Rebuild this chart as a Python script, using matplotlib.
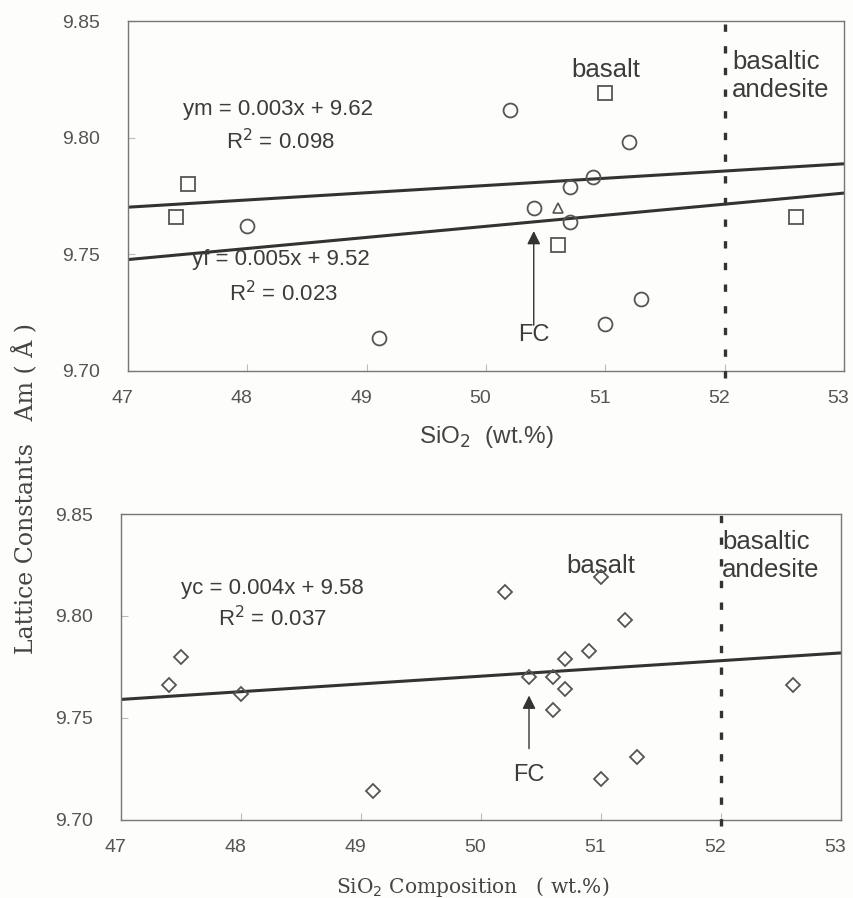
import numpy as np
import matplotlib.pyplot as plt
from matplotlib.transforms import ScaledTranslation

# SiO2 (wt.%) and lattice constant Am (A) for each sample group
sq_x = [47.4, 47.5, 50.6, 51.0, 52.6]
sq_y = [9.766, 9.780, 9.754, 9.819, 9.766]
ci_x = [48.0, 49.1, 50.2, 50.4, 50.7, 50.7, 50.9, 51.0, 51.2, 51.3]
ci_y = [9.762, 9.714, 9.812, 9.770, 9.779, 9.764, 9.783, 9.720, 9.798, 9.731]
tr_x = [50.6]
tr_y = [9.770]

# regression lines (slope, intercept)
fit_m = (0.0031, 9.6245)
fit_f = (0.00475, 9.5245)
fit_c = (0.0038, 9.5805)

xticks = [47, 48, 49, 50, 51, 52, 53]
yticks = [9.70, 9.75, 9.80, 9.85]

all_x = np.array(sq_x + ci_x + tr_x)
all_y = np.array(sq_y + ci_y + tr_y)

sans = 'Liberation Sans'
serif = 'DejaVu Serif'
txtc = '#3c3c3c'
mkc = '#555555'

fig = plt.figure(figsize=(8.54, 8.98), dpi=100)
fig.patch.set_facecolor('#fdfdfb')

ax1 = fig.add_axes([0.1499, 0.5869, 0.8384, 0.3897])
ax2 = fig.add_axes([0.1417, 0.0869, 0.8431, 0.3407])

shift = ScaledTranslation(-4 / 72, 0, fig.dpi_scale_trans)

for ax in (ax1, ax2):
    ax.set_facecolor('#fdfdfb')
    ax.set_xlim(47, 53)
    ax.set_ylim(9.70, 9.85)
    ax.set_xticks(xticks)
    ax.set_yticks(yticks)
    ax.set_yticklabels(['%.2f' % v for v in yticks])
    ax.tick_params(direction='in', length=5, width=0.8, color='#bbbbbb',
                   labelcolor='#555555', labelsize=14)
    ax.tick_params(axis='y', pad=20)
    ax.tick_params(axis='x', pad=14)
    for lab in ax.get_xticklabels() + ax.get_yticklabels():
        lab.set_fontfamily(sans)
    for lab in ax.get_xticklabels():
        lab.set_transform(lab.get_transform() + shift)
    for sp in ax.spines.values():
        sp.set_color('#777777')
        sp.set_linewidth(1.0)
    # basalt / basaltic andesite boundary
    ax.plot([52, 52], [9.697, 9.851], color='#333333', lw=2.4,
            dashes=(2.2, 4.3), clip_on=False, zorder=3)

xx = np.array([47, 53])

# top panel
ax1.plot(xx, fit_m[0] * xx + fit_m[1], color='#333333', lw=2.2, zorder=2)
ax1.plot(xx, fit_f[0] * xx + fit_f[1], color='#333333', lw=2.2, zorder=2)
ax1.plot(sq_x, sq_y, 's', ms=9.5, mfc='none', mec=mkc, mew=1.3, zorder=4)
ax1.plot(ci_x, ci_y, 'o', ms=10, mfc='none', mec=mkc, mew=1.3, zorder=4)
ax1.plot(tr_x, tr_y, '^', ms=7, mfc='none', mec=mkc, mew=1.2, zorder=4)

ax1.text(48.26, 9.812, 'ym = 0.003x + 9.62', ha='center', va='center',
         fontsize=16, color=txtc, family=sans)
ax1.text(48.28, 9.7985, 'R$^2$ = 0.098', ha='center', va='center',
         fontsize=16, color=txtc, family=sans)
ax1.text(48.28, 9.7476, 'yf = 0.005x + 9.52', ha='center', va='center',
         fontsize=16, color=txtc, family=sans)
ax1.text(48.30, 9.733, 'R$^2$ = 0.023', ha='center', va='center',
         fontsize=16, color=txtc, family=sans)
ax1.text(51.0, 9.829, 'basalt', ha='center', va='center',
         fontsize=18.5, color=txtc, family=sans)
ax1.text(52.06, 9.8265, 'basaltic\nandesite', ha='left', va='center',
         fontsize=18.5, color=txtc, family=sans, linespacing=1.22)
ax1.annotate('', xy=(50.4, 9.760), xytext=(50.4, 9.7196),
             arrowprops=dict(arrowstyle='-|>', color='#333333', lw=1.0,
                             mutation_scale=20, shrinkA=0, shrinkB=0))
ax1.text(50.4, 9.7155, 'FC', ha='center', va='center',
         fontsize=17, color=txtc, family=sans)
ax1.set_xlabel('SiO$_2$  (wt.%)', fontsize=17.5, color='#444444',
               family=sans, labelpad=12)

# bottom panel, all samples together
ax2.plot(xx, fit_c[0] * xx + fit_c[1], color='#333333', lw=2.2, zorder=2)
ax2.plot(all_x, all_y, 'D', ms=6.8, mfc='none', mec=mkc, mew=1.3, zorder=4)

ax2.text(48.26, 9.8137, 'yc = 0.004x + 9.58', ha='center', va='center',
         fontsize=16, color=txtc, family=sans)
ax2.text(48.26, 9.7985, 'R$^2$ = 0.037', ha='center', va='center',
         fontsize=16, color=txtc, family=sans)
ax2.text(51.0, 9.8245, 'basalt', ha='center', va='center',
         fontsize=18.5, color=txtc, family=sans)
ax2.text(52.01, 9.8295, 'basaltic\nandesite', ha='left', va='center',
         fontsize=18.5, color=txtc, family=sans, linespacing=1.2)
ax2.annotate('', xy=(50.4, 9.761), xytext=(50.4, 9.735),
             arrowprops=dict(arrowstyle='-|>', color='#333333', lw=1.0,
                             mutation_scale=20, shrinkA=0, shrinkB=0))
ax2.text(50.4, 9.722, 'FC', ha='center', va='center',
         fontsize=17, color=txtc, family=sans)

fig.text(473 / 854, 1 - 887 / 898, 'SiO$_2$ Composition   ( wt.%)',
         ha='center', va='center', fontsize=14.5, color='#444444',
         family=serif)
fig.text(0.03, 0.456, 'Lattice Constants   Am ( Å )', rotation=90,
         ha='center', va='center', fontsize=17, color='#444444',
         family=serif)

fig.savefig('out.png', dpi=100, facecolor=fig.get_facecolor())
